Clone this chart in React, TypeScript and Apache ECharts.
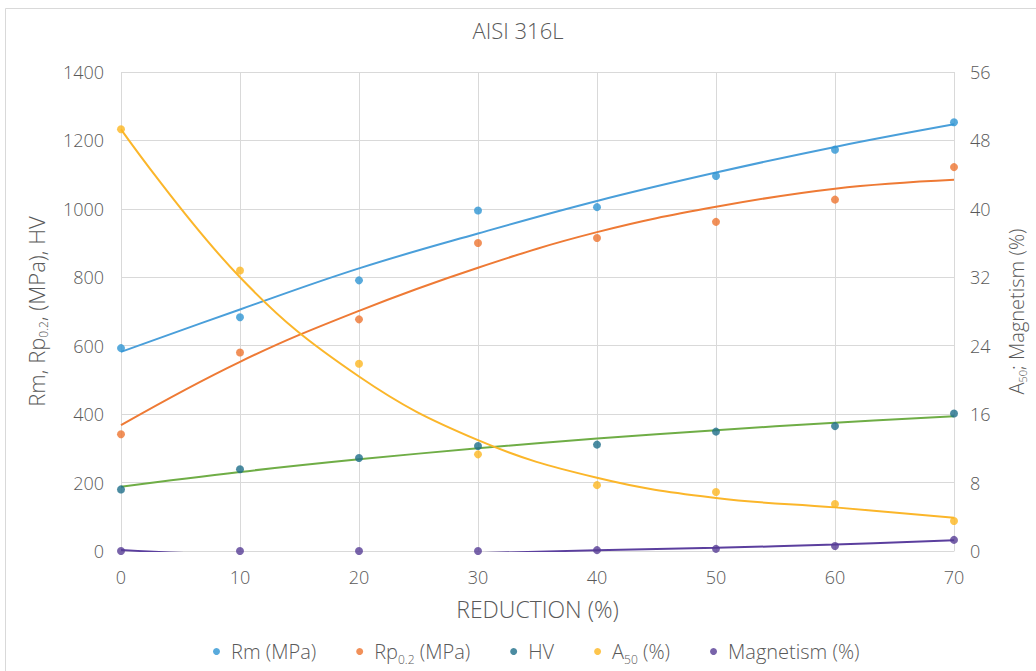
import React, { useEffect, useRef } from "react";
import * as echarts from "echarts";

const reduction = [0, 10, 20, 30, 40, 50, 60, 70];
const rm = [593, 683, 791, 995, 1005, 1096, 1173, 1253];
const rp02 = [341, 580, 677, 900, 915, 962, 1027, 1122];
const hv = [180, 239, 272, 307, 311, 349, 365, 402];
const a50 = [49.3, 32.8, 21.9, 11.3, 7.7, 6.9, 5.5, 3.5];
const magnetism = [0, 0, 0, 0, 0.1, 0.25, 0.58, 1.3];

const rmTrend = [582, 706, 826, 928, 1023, 1106, 1181, 1247];
const rpTrend = [368, 553, 702, 828, 932, 1006, 1059, 1085];
const hvTrend = [188, 231, 268, 300, 329, 353, 375, 394];
const a50Trend = [49.3, 32.0, 20.4, 12.96, 8.56, 6.2, 5.1, 3.9];
const magTrend = [0.12, -0.4, -0.45, -0.25, 0.1, 0.37, 0.76, 1.25];

const leftTicks = { min: 0, max: 1400, interval: 200 };
const rightTicks = { min: 0, max: 56, interval: 8 };

const FONT = "'Open Sans', 'Noto Sans', sans-serif";
const GREY = "#595959";

const colors = {
  rm: "#2E95D3",
  rmLine: "#4A9FDA",
  rp: "#ED7430",
  rpLine: "#EE7A35",
  hv: "#1E6E8A",
  hvLine: "#6FAD46",
  a50: "#FDB720",
  a50Line: "#FBB62A",
  mag: "#563C95",
  magLine: "#5B3F9E",
};

const pair = (xs: number[], ys: number[]) => xs.map((x, i) => [x, ys[i]]);

export default function App() {
  const ref = useRef<HTMLDivElement>(null);
  useEffect(() => {
    if (!ref.current) return;
    const chart = echarts.init(ref.current, undefined, { renderer: "svg" });
    const sub = { fontSize: 12, padding: [15, 0, 0, 0], color: GREY, fontFamily: FONT, fontWeight: 300 };
    const subR = { fontSize: 11, padding: [13, 0, 0, 0], color: GREY, fontFamily: FONT, fontWeight: 300 };
    const legendNames: Record<string, string> = {
      "Rm (MPa)": "Rm (MPa)",
      "Rp0.2 (MPa)": "Rp{sub|0.2} (MPa)",
      HV: "HV",
      "A50 (%)": "A{sub|50} (%)",
      "Magnetism (%)": "Magnetism (%)",
    };
    const scatter = (name: string, data: number[], color: string, yAxisIndex: number) => ({
      type: "scatter",
      name,
      yAxisIndex,
      data: pair(reduction, data),
      symbol: "circle",
      symbolSize: 8,
      itemStyle: { color },
      z: 3,
    });
    const trend = (name: string, data: number[], color: string, yAxisIndex: number) => ({
      type: "line",
      name,
      yAxisIndex,
      data: pair(reduction, data),
      smooth: 0.4,
      showSymbol: false,
      symbol: "none",
      clip: true,
      lineStyle: { color, width: 2 },
      itemStyle: { color },
      z: 2,
    });
    const plain = (v: number) => String(v);
    chart.setOption({
      animation: false,
      backgroundColor: "#ffffff",
      title: {
        text: "AISI 316L",
        left: "center",
        top: 14,
        textStyle: { fontFamily: FONT, fontSize: 22, fontWeight: 300, color: GREY },
      },
      graphic: [
        {
          type: "rect",
          shape: { x: 5.5, y: 8.5, width: 1100, height: 800 },
          style: { fill: "none", stroke: "#d9d9d9", lineWidth: 1 },
          silent: true,
        },
      ],
      grid: { left: 121, right: 82, top: 72, bottom: 120, containLabel: false, outerBoundsMode: "none" },
      legend: {
        bottom: 1,
        left: 208,
        itemGap: 40,
        itemWidth: 7,
        itemHeight: 7,
        icon: "circle",
        data: ["Rm (MPa)", "Rp0.2 (MPa)", "HV", "A50 (%)", "Magnetism (%)"],
        formatter: (n: string) => legendNames[n] || n,
        textStyle: {
          fontFamily: FONT,
          fontSize: 20,
          fontWeight: 300,
          color: GREY,
          padding: [0, 0, 0, 6],
          rich: { sub },
        },
      },
      xAxis: {
        type: "value",
        min: 0,
        max: 70,
        interval: 10,
        name: "REDUCTION (%)",
        nameLocation: "middle",
        nameGap: 46,
        nameTextStyle: { fontFamily: FONT, fontSize: 23, fontWeight: 300, color: GREY },
        axisLine: { show: true, lineStyle: { color: "#d9d9d9" } },
        axisTick: { show: false },
        axisLabel: { fontFamily: FONT, fontSize: 18, fontWeight: 300, color: GREY, margin: 17, formatter: plain },
        splitLine: { show: true, lineStyle: { color: "#d9d9d9" } },
      },
      yAxis: [
        {
          type: "value",
          ...leftTicks,
          name: "Rm, Rp{sub|0.2}, (MPa), HV",
          nameLocation: "middle",
          nameGap: 72,
          nameRotate: 90,
          nameTextStyle: { fontFamily: FONT, fontSize: 22, fontWeight: 300, color: GREY, rich: { sub } },
          axisLine: { show: false },
          axisTick: { show: false },
          axisLabel: { fontFamily: FONT, fontSize: 18, fontWeight: 300, color: GREY, margin: 17, formatter: plain },
          splitLine: { show: true, lineStyle: { color: "#d9d9d9" } },
        },
        {
          type: "value",
          ...rightTicks,
          position: "right",
          name: "A{sub|50}; Magnetism (%)",
          nameLocation: "middle",
          nameGap: 50,
          nameRotate: 90,
          nameTextStyle: { fontFamily: FONT, fontSize: 20, fontWeight: 300, color: GREY, rich: { sub: subR } },
          axisLine: { show: false },
          axisTick: { show: false },
          axisLabel: { fontFamily: FONT, fontSize: 18, fontWeight: 300, color: GREY, margin: 16, formatter: plain },
          splitLine: { show: false },
        },
      ],
      series: [
        trend("Rm trend", rmTrend, colors.rmLine, 0),
        trend("Rp trend", rpTrend, colors.rpLine, 0),
        trend("HV trend", hvTrend, colors.hvLine, 0),
        trend("A50 trend", a50Trend, colors.a50Line, 1),
        trend("Magnetism trend", magTrend, colors.magLine, 1),
        scatter("Rm (MPa)", rm, colors.rm, 0),
        scatter("Rp0.2 (MPa)", rp02, colors.rp, 0),
        scatter("HV", hv, colors.hv, 0),
        scatter("A50 (%)", a50, colors.a50, 1),
        scatter("Magnetism (%)", magnetism, colors.mag, 1),
      ],
    });
    return () => chart.dispose();
  }, []);
  return (
    <div
      ref={ref}
      style={{ position: "absolute", left: 0, top: 0, width: 1036, height: 671, background: "#fff" }}
    />
  );
}
